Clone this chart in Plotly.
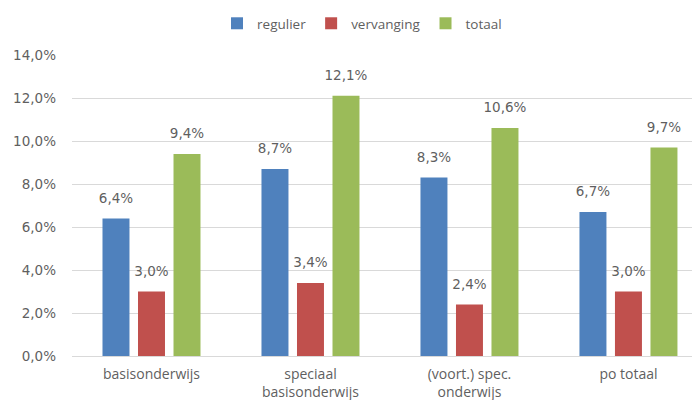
import plotly.graph_objects as go

categories = ["basisonderwijs", "speciaal<br>basisonderwijs", "(voort.) spec.<br>onderwijs", "po totaal"]
regulier = [0.064, 0.087, 0.083, 0.067]
vervanging = [0.030, 0.034, 0.024, 0.030]
totaal = [0.094, 0.121, 0.106, 0.097]
series = [("regulier", regulier, "#4F81BD"),
          ("vervanging", vervanging, "#C0504D"),
          ("totaal", totaal, "#9BBB59")]
y_ticks = [0, 0.02, 0.04, 0.06, 0.08, 0.10, 0.12, 0.14]

TXT = "#5f5f5f"
xs = list(range(len(categories)))

fig = go.Figure()
for name, vals, color in series:
    fig.add_trace(go.Bar(
        name=name, x=xs, y=vals, offsetgroup=name,
        marker=dict(color=color, line=dict(width=0)),
    ))
for name, vals, color in series:
    fig.add_trace(go.Scatter(
        x=xs, y=vals, offsetgroup=name, mode="markers+text",
        marker=dict(size=18, opacity=0, color=color),
        text=[f"{v*100:.1f}%".replace(".", ",") for v in vals],
        textposition="top center", cliponaxis=False, showlegend=False,
        textfont=dict(family="DejaVu Sans", size=13.5, color=TXT),
        hoverinfo="skip",
    ))

fig.update_layout(
    width=692, height=392,
    margin=dict(l=64, r=0, t=47, b=44, autoexpand=False),
    paper_bgcolor="white", plot_bgcolor="white",
    barmode="group", bargap=0.33, bargroupgap=0.24,
    scattermode="group", scattergap=0.33,
    separators=",.",
    showlegend=True,
    legend=dict(orientation="h", x=0.5116, xref="container", xanchor="center",
                y=1.0, yref="container", yanchor="top",
                font=dict(family="Open Sans", size=13.5, color=TXT),
                itemwidth=30, traceorder="normal"),
    font=dict(family="Open Sans", color=TXT),
)
fig.update_xaxes(
    tickmode="array", tickvals=xs, ticktext=categories,
    range=[-0.5, 3.45], showgrid=False, showline=True, linecolor="#d9d9d9",
    ticks="", tickfont=dict(family="Open Sans", size=14, color=TXT),
    ticklabelstandoff=5, automargin=False,
)
fig.update_yaxes(
    range=[0, 0.14], tickvals=y_ticks, tickformat=".1%",
    showgrid=True, gridcolor="#d9d9d9", gridwidth=1, zeroline=False,
    tickfont=dict(family="DejaVu Sans", size=13.5, color=TXT),
    ticklabelstandoff=15, automargin=False,
)
fig.write_html("out.html")
